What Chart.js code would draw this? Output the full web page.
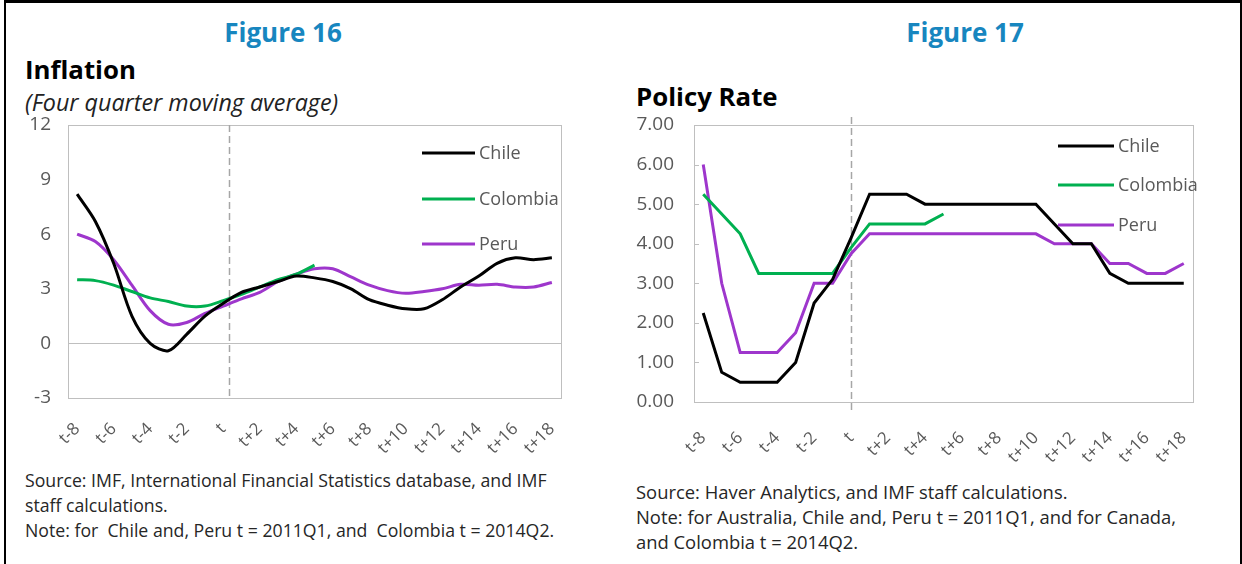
<!DOCTYPE html>
<html>
<head>
<meta charset="utf-8">
<script src="https://cdn.jsdelivr.net/npm/chart.js@4.4.1/dist/chart.umd.min.js"></script>
<style>
  body { margin: 0; width: 1242px; height: 564px; overflow: hidden; background: #fff; position: relative; font-family: "Open Sans", sans-serif; }
  .frame { position: absolute; left: 4px; top: 0; width: 1234px; height: 620px; border-top: 3px solid #000; border-left: 2px solid #000; border-right: 2px solid #000; }
  .t { position: absolute; white-space: nowrap; }
  .fig { color: #1786bf; font-weight: 700; font-size: 26px; line-height: 30px; width: 240px; text-align: center; }
  .title { color: #000; font-weight: 700; font-size: 25.8px; line-height: 28px; }
  .sub { color: #222; font-style: italic; font-size: 23.3px; line-height: 24px; }
  .note { color: #262626; line-height: 25px; }
  canvas { position: absolute; }
</style>
</head>
<body>
<div class="frame"></div>

<div class="t fig" style="left:163px;top:17px">Figure 16</div>
<div class="t title" style="left:25px;top:55px">Inflation</div>
<div class="t sub" style="left:25px;top:90px">(Four quarter moving average)</div>

<div class="t fig" style="left:845px;top:17px">Figure 17</div>
<div class="t title" style="left:636px;top:82px">Policy Rate</div>

<div class="t note" style="left:25px;top:468px;font-size:17.7px">Source: IMF, International Financial Statistics database, and IMF<br>staff calculations.<br>Note: for &nbsp;Chile and, Peru t = 2011Q1, and &nbsp;Colombia t = 2014Q2.</div>
<div class="t note" style="left:636px;top:479px;font-size:18.4px">Source: Haver Analytics, and IMF staff calculations.<br>Note: for Australia, Chile and, Peru t = 2011Q1, and for Canada,<br>and Colombia t = 2014Q2.</div>

<div style="position:absolute;left:20px;top:110px;width:560px;height:360px"><canvas id="inflationChart"></canvas></div>
<div style="position:absolute;left:625px;top:110px;width:600px;height:360px"><canvas id="rateChart"></canvas></div>

<script>
// quarters around the event date t
const quarters = ['t-8', 't-7', 't-6', 't-5', 't-4', 't-3', 't-2', 't-1', 't',
  't+1', 't+2', 't+3', 't+4', 't+5', 't+6', 't+7', 't+8', 't+9', 't+10',
  't+11', 't+12', 't+13', 't+14', 't+15', 't+16', 't+17', 't+18']

// Figure 16 - inflation, four quarter moving average
const inflationChile = [8.2, 6.7, 4.4, 1.5, 0.0, -0.4, 0.5, 1.5, 2.2, 2.8, 3.1, 3.4, 3.7, 3.6, 3.4, 3.0, 2.4, 2.1, 1.9, 1.9, 2.4, 3.1, 3.7, 4.4, 4.7, 4.6, 4.7]
const inflationColombia = [3.5, 3.45, 3.2, 2.85, 2.5, 2.3, 2.05, 2.05, 2.35, 2.7, 3.1, 3.5, 3.8, 4.3]
const inflationPeru = [6.0, 5.6, 4.6, 3.2, 1.8, 1.05, 1.15, 1.65, 2.05, 2.45, 2.8, 3.4, 3.8, 4.1, 4.1, 3.65, 3.2, 2.9, 2.75, 2.85, 3.0, 3.25, 3.2, 3.25, 3.1, 3.1, 3.35]

// Figure 17 - policy rate
const rateChile = [2.25, 0.75, 0.5, 0.5, 0.5, 1.0, 2.5, 3.1, 4.15, 5.25, 5.25, 5.25, 5.0, 5.0, 5.0, 5.0, 5.0, 5.0, 5.0, 4.5, 4.0, 4.0, 3.25, 3.0, 3.0, 3.0, 3.0]
const rateColombia = [5.25, 4.75, 4.25, 3.25, 3.25, 3.25, 3.25, 3.25, 3.9, 4.5, 4.5, 4.5, 4.5, 4.75]
const ratePeru = [6.0, 3.0, 1.25, 1.25, 1.25, 1.75, 3.0, 3.0, 3.75, 4.25, 4.25, 4.25, 4.25, 4.25, 4.25, 4.25, 4.25, 4.25, 4.25, 4.0, 4.0, 4.0, 3.5, 3.5, 3.25, 3.25, 3.5]

const countries = ['Chile', 'Colombia', 'Peru']
const colours = ['#000000', '#00b050', '#9e36cc']
const tickColour = '#595959'
const frameColour = '#bfbfbf'
const font = '"Open Sans", sans-serif'

// box, dashed t line, legend, drawn on top of the chart area
const decorPlugin = {
  id: 'decor',
  beforeDatasetsDraw(chart, args, opts) {
    const { ctx, chartArea: a, scales: { x, y } } = chart
    ctx.save()
    ctx.strokeStyle = frameColour
    ctx.lineWidth = 1
    ctx.strokeRect(a.left + 0.5, a.top + 0.5, a.right - a.left, a.bottom - a.top)
    if (opts.innerTicks) {
      y.ticks.forEach(t => {
        const py = Math.round(y.getPixelForValue(t.value)) + 0.5
        ctx.beginPath(); ctx.moveTo(a.left, py); ctx.lineTo(a.left + 5, py); ctx.stroke()
      })
    }
    // dashed line at t
    const p0 = x.getPixelForValue(opts.tIndex)
    const px = Math.round(p0 + opts.tShift * (x.getPixelForValue(opts.tIndex + 1) - p0)) + 0.5
    ctx.strokeStyle = '#a6a6a6'
    ctx.lineWidth = 1.5
    ctx.setLineDash([7, 4])
    ctx.beginPath()
    ctx.moveTo(px, a.top - opts.dashOver)
    ctx.lineTo(px, a.bottom + opts.dashOver)
    ctx.stroke()
    ctx.restore()
  },
  afterDatasetsDraw(chart, args, opts) {
    const { ctx } = chart
    ctx.save()
    ctx.font = '18px ' + font
    ctx.textBaseline = 'middle'
    chart.data.datasets.forEach((ds, i) => {
      const ly = opts.legendY[i]
      ctx.strokeStyle = ds.borderColor
      ctx.lineWidth = 3
      ctx.beginPath()
      ctx.moveTo(opts.legendX, ly)
      ctx.lineTo(opts.legendX + opts.legendLen, ly)
      ctx.stroke()
      ctx.fillStyle = tickColour
      ctx.fillText(ds.label, opts.legendX + opts.legendLen + 4, ly + 1)
    })
    ctx.restore()
  }
}

function makeChart(id, series, yOpts, decor, layout) {
  return new Chart(document.getElementById(id), {
    type: 'line',
    data: {
      labels: quarters,
      datasets: series.map((s, i) => ({
        label: countries[i],
        data: s,
        borderColor: colours[i],
        borderWidth: 3,
        pointRadius: 0,
        tension: layout.tension,
        fill: false
      }))
    },
    options: {
      responsive: true,
      maintainAspectRatio: false,
      animation: false,
      layout: { padding: layout.padding },
      plugins: { legend: { display: false }, tooltip: { enabled: false }, decor },
      scales: {
        x: {
          offset: true,
          grid: { display: false },
          border: { display: false },
          afterFit: s => { s.height = layout.xHeight },
          ticks: {
            autoSkip: false,
            minRotation: 45,
            maxRotation: 45,
            padding: layout.xPad,
            color: tickColour,
            font: { family: font, size: 17 },
            callback: (v, i) => i % 2 === 0 ? quarters[i] : ''
          }
        },
        y: Object.assign({
          border: { display: false },
          afterFit: s => { s.width = layout.yWidth; s.paddingTop = 0; s.paddingBottom = 0 },
        }, yOpts)
      }
    },
    plugins: [decorPlugin]
  })
}

makeChart('inflationChart', [inflationChile, inflationColombia, inflationPeru], {
  min: -3,
  max: 12,
  grid: {
    drawTicks: false,
    color: c => c.tick.value === 0 ? frameColour : 'rgba(0,0,0,0)'
  },
  ticks: { stepSize: 3, padding: 17, color: tickColour, font: { family: font, size: 19 } }
}, {
  tIndex: 8, tShift: 0.3, dashOver: 0, innerTicks: false,
  legendX: 402, legendLen: 53, legendY: [43, 89, 134]
}, {
  padding: { top: 15, right: 19, left: 0, bottom: 0 },
  yWidth: 48, xHeight: 72, xPad: 13, tension: 0.3
})

makeChart('rateChart', [rateChile, rateColombia, ratePeru], {
  min: 0,
  max: 7,
  grid: { display: false },
  ticks: { stepSize: 1, padding: 12, color: tickColour, font: { family: font, size: 19 }, callback: v => v.toFixed(2) }
}, {
  tIndex: 8, tShift: 0, dashOver: 8, innerTicks: true,
  legendX: 433, legendLen: 56, legendY: [36, 75, 115]
}, {
  padding: { top: 15, right: 32, left: 0, bottom: 0 },
  yWidth: 69, xHeight: 68, xPad: 18, tension: 0
})
</script>
</body>
</html>
